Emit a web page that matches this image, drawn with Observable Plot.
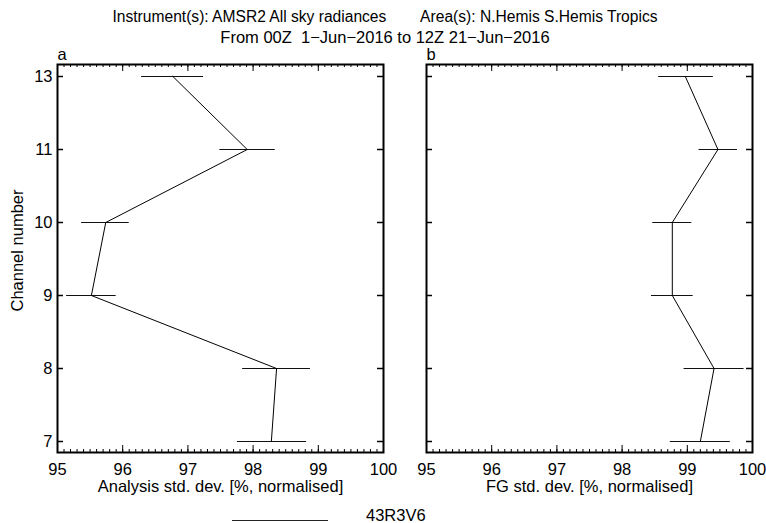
<!DOCTYPE html>
<html>
<head>
<meta charset="utf-8">
<script src="https://cdn.jsdelivr.net/npm/d3@7"></script>
<script src="https://cdn.jsdelivr.net/npm/@observablehq/plot@0.6"></script>
<style>
  html, body { margin: 0; padding: 0; background: #fff; }
  #wrap { position: relative; width: 766px; height: 523px; font-family: "Liberation Sans", Arial, sans-serif; color: #000; overflow: hidden; }
  #title { width: 766px; padding-top: 7px; height: 48px; font-size: 16.5px; line-height: 20px; text-align: center; white-space: pre; padding-left: 4px; box-sizing: border-box; }
  #title .l1 { font-size: 15.6px; }
  #row { display: flex; }
  #legline { position: absolute; left: 232px; top: 520px; width: 96px; border-top: 1px solid #222; }
  #legtext { position: absolute; left: 366px; top: 507px; font-size: 16.5px; line-height: 16.5px; }
</style>
</head>
<body>
<div id="wrap">
  <div id="title"><div class="l1"></div><div class="l2"></div></div>
  <div id="row"></div>
  <div id="legline"></div>
  <div id="legtext"></div>
</div>
<script>
const titleLines = ["Instrument(s): AMSR2 All sky radiances        Area(s): N.Hemis S.Hemis Tropics",
                    "From 00Z  1\u2212Jun\u22122016 to 12Z 21\u2212Jun\u22122016"];
const channels = ["13", "11", "10", "9", "8", "7"];
const xTicks = [95, 96, 97, 98, 99, 100];
const anMean = [96.77, 97.91, 95.74, 95.52, 98.36, 98.28];
const anLo   = [96.29, 97.49, 95.37, 95.14, 97.84, 97.76];
const anHi   = [97.24, 98.34, 96.10, 95.90, 98.88, 98.82];
const fgMean = [98.97, 99.47, 98.77, 98.77, 99.41, 99.20];
const fgLo   = [98.56, 99.18, 98.47, 98.45, 98.95, 98.74];
const fgHi   = [99.40, 99.77, 99.07, 99.09, 99.87, 99.66];
const panelLetters = ["a", "b"];
const xLabels = ["Analysis std. dev. [%, normalised]", "FG std. dev. [%, normalised]"];
const yLabel = "Channel number";
const legendLabel = "43R3V6";

document.querySelector("#title .l1").textContent = titleLines[0];
document.querySelector("#title .l2").textContent = titleLines[1];
document.getElementById("legtext").textContent = legendLabel;

const minorTicks = d3.ticks(95, 100, 50);
const FH = 388, FW = 326;
const FS = 16.5;

function panel(mean, lo, hi, letter, xlab, width, ml, mr, showY) {
  const data = channels.map((c, i) => ({ch: c, v: mean[i], lo: lo[i], hi: hi[i]}));
  const marks = [
    Plot.tickX(minorTicks, {x: d => d, insetBottom: FH - 3, stroke: "#000"}),
    Plot.tickX(xTicks, {x: d => d, insetBottom: FH - 7, stroke: "#000"}),
    Plot.tickX(minorTicks, {x: d => d, insetTop: FH - 3, stroke: "#000"}),
    Plot.tickX(xTicks, {x: d => d, insetTop: FH - 7, stroke: "#000"}),
    Plot.tickY(channels, {y: d => d, insetRight: FW - 6, stroke: "#000", strokeWidth: 1.5}),
    Plot.tickY(channels, {y: d => d, insetLeft: FW - 6, stroke: "#000", strokeWidth: 1.5}),
    Plot.ruleY(data, {y: "ch", x1: "lo", x2: "hi", stroke: "#111", strokeWidth: 1}),
    Plot.line(data, {x: "v", y: "ch", stroke: "#000", strokeWidth: 1}),
    Plot.frame({stroke: "#000", strokeWidth: 2}),
    Plot.axisX(xTicks, {anchor: "bottom", tickSize: 0, tickPadding: 11, label: null, tickFormat: d => String(d)}),
    Plot.text([xlab], {frameAnchor: "bottom", dy: 34, lineAnchor: "middle", fontSize: FS}),
    Plot.text([letter], {frameAnchor: "top-left", dy: -10, dx: 0, textAnchor: "start", lineAnchor: "middle", fontSize: FS})
  ];
  if (showY) {
    marks.push(Plot.axisY({anchor: "left", tickSize: 0, tickPadding: 5, label: null}));
    marks.push(Plot.text([yLabel], {frameAnchor: "left", dx: -40, dy: -8, rotate: -90, textAnchor: "middle", lineAnchor: "middle", fontSize: FS}));
  }
  return Plot.plot({
    width, height: 16 + FH + 44,
    marginTop: 16, marginBottom: 44, marginLeft: ml, marginRight: mr,
    x: {domain: [95, 100]},
    y: {type: "point", domain: channels, padding: 0.136, axis: showY ? undefined : null},
    style: {fontFamily: "Liberation Sans, Arial, sans-serif", fontSize: FS + "px", color: "#000", background: "transparent", overflow: "visible"},
    marks
  });
}

const row = document.getElementById("row");
row.appendChild(panel(anMean, anLo, anHi, panelLetters[0], xLabels[0], 398, 57, 15, true));
row.appendChild(panel(fgMean, fgLo, fgHi, panelLetters[1], xLabels[1], 368, 28, 14, false));
</script>
</body>
</html>
